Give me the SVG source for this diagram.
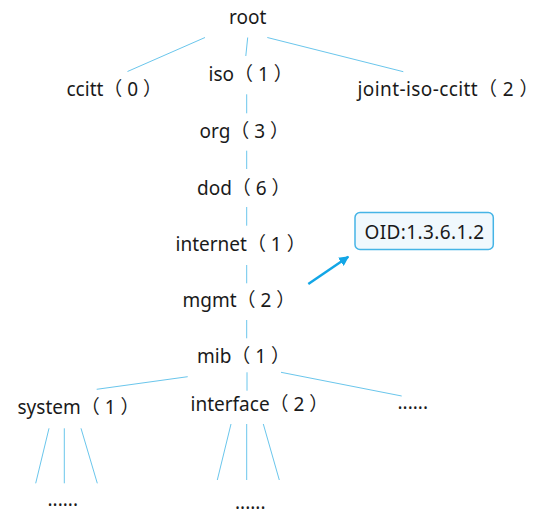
<svg xmlns="http://www.w3.org/2000/svg" width="541" height="526" viewBox="0 0 541 526">
<style>
.t{font-family:"Noto Sans","Noto Sans CJK SC",sans-serif;font-size:19px;fill:#1a1a1a;white-space:pre}
.c line{stroke:#6ac6ec;stroke-width:1}
</style>
<defs>
<marker id="ah" viewBox="0 0 10 10" refX="9" refY="5" markerWidth="4" markerHeight="4" orient="auto" markerUnits="strokeWidth">
<path d="M0,0 L10,5 L0,10 z" fill="#12a6e6"/>
</marker>
</defs>
<rect width="541" height="526" fill="#ffffff"/>
<g id="connectors" class="c">
<line x1="205" y1="37.5" x2="127.5" y2="71.5"/>
<line x1="247.7" y1="37.5" x2="245.8" y2="56"/>
<line x1="267.3" y1="37.5" x2="403.3" y2="71.7"/>
<line x1="246.7" y1="94.3" x2="246.7" y2="113.3"/>
<line x1="246.7" y1="150.7" x2="246.7" y2="169"/>
<line x1="246.7" y1="207" x2="246.7" y2="225.7"/>
<line x1="246.7" y1="265" x2="246.7" y2="283.3"/>
<line x1="246.7" y1="320" x2="246.7" y2="338.3"/>
<line x1="187.7" y1="376.7" x2="96.7" y2="389.3"/>
<line x1="247" y1="372.3" x2="247" y2="390.7"/>
<line x1="281" y1="372.3" x2="401.7" y2="396"/>
<line x1="49" y1="428.3" x2="35.7" y2="483.3"/>
<line x1="64.3" y1="428.3" x2="64.3" y2="483.3"/>
<line x1="81" y1="428.3" x2="97.3" y2="483.3"/>
<line x1="231" y1="424" x2="217.3" y2="480"/>
<line x1="246.7" y1="424" x2="246.7" y2="480"/>
<line x1="263.3" y1="424" x2="279.3" y2="480"/>
<line x1="308.3" y1="284" x2="348.3" y2="256.7" style="stroke:#12a6e6;stroke-width:2.5" marker-end="url(#ah)"/>
</g>
<g id="root"><text class="t" x="229" y="24">root</text></g>
<g id="ccitt"><text class="t" x="66.5" y="96">ccitt（ 0 ）</text></g>
<g id="iso"><text class="t" x="208.5" y="81">iso（ 1 ）</text></g>
<g id="joint-iso-ccitt"><text class="t" x="357.5" y="96" textLength="181" lengthAdjust="spacing">joint-iso-ccitt（ 2 ）</text></g>
<g id="org"><text class="t" x="199.5" y="138">org（ 3 ）</text></g>
<g id="dod"><text class="t" x="197" y="195">dod（ 6 ）</text></g>
<g id="internet"><text class="t" x="175.5" y="251">internet（ 1 ）</text></g>
<g id="mgmt"><text class="t" x="182.5" y="307">mgmt（ 2 ）</text></g>
<g id="mib"><text class="t" x="197" y="363">mib（ 1 ）</text></g>
<g id="system"><text class="t" x="17.5" y="414">system（ 1 ）</text></g>
<g id="interface"><text class="t" x="190.5" y="411">interface（ 2 ）</text></g>
<g id="mib-more"><text class="t" x="397.5" y="409">......</text></g>
<g id="system-more"><text class="t" x="47.5" y="506">......</text></g>
<g id="interface-more"><text class="t" x="235" y="509">......</text></g>
<g id="oid">
<rect x="355" y="212.5" width="138.3" height="37" rx="5" ry="5" fill="#f0f8fd" stroke="#45b4e6" stroke-width="1.5"/>
<text class="t" x="364.5" y="239" textLength="119.5" lengthAdjust="spacing">OID:1.3.6.1.2</text>
</g>
</svg>
